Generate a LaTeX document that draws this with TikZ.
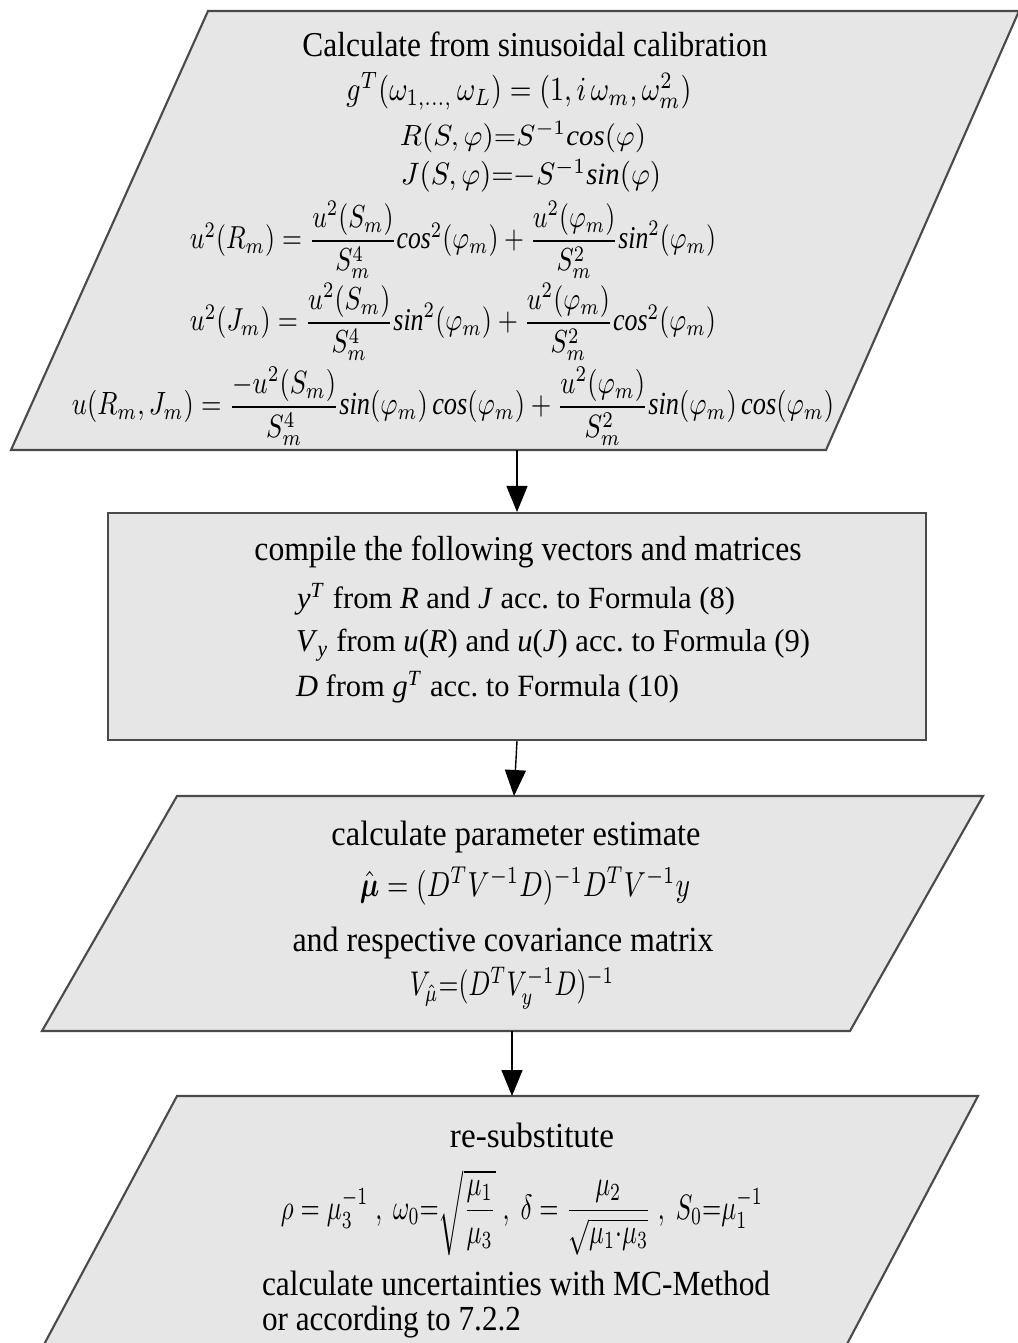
\documentclass[tikz,border=0pt]{standalone}
\usepackage{fontspec}
\setmainfont{Liberation Serif}
\usepackage{amsmath}
\usepackage{graphicx}
\usetikzlibrary{arrows.meta}
\newlength{\px}\setlength{\px}{0.02cm}
\newcommand{\fitto}[3]{\resizebox*{#1\px}{#2\px}{#3}}
\newcommand{\fittext}[2]{\resizebox*{#1\px}{32\px}{\vphantom{(}#2}}
\definecolor{boxfill}{HTML}{E6E6E6}
\definecolor{boxline}{HTML}{4A4A4A}
\begin{document}
\begin{tikzpicture}[x=0.02cm,y=-0.02cm,
  shapebox/.style={fill=boxfill,draw=boxline,line width=1.2pt,line join=miter},
  txt/.style={inner sep=0pt,outer sep=0pt,anchor=center},
  ltxt/.style={inner sep=0pt,outer sep=0pt,anchor=west},
  flowarrow/.style={draw=black,line width=0.8pt,-{Triangle[length=0.52cm,width=0.42cm]}}]
\useasboundingbox (0,0) rectangle (1018,1343);
\begin{scope}
\clip (0,0) rectangle (1018,1343);
% shapes
\draw[shapebox] (208,11) -- (1019,11) -- (826,450) -- (11,450) -- cycle;
\node[shapebox,minimum width=818\px,minimum height=227\px,inner sep=0pt] (box2) at (517,626.5) {};
\draw[shapebox] (177,796) -- (983,796) -- (850,1031) -- (42,1031) -- cycle;
\draw[shapebox] (177,1096) -- (978,1096) -- (828,1380) -- (25,1380) -- cycle;
\end{scope}
% connector ends
\coordinate (p1s) at (517,450);
\coordinate (p3n) at (514,796);
\coordinate (p3s) at (512,1031);
\coordinate (p4n) at (512,1096);
\draw[flowarrow] (p1s) -- (box2.north);
\draw[flowarrow] (box2.south) -- (p3n);
\draw[flowarrow] (p3s) -- (p4n);
% shape 1 texts
\node[txt] (t1) at (535,48) {\fittext{465}{Calculate from sinusoidal calibration}};
\node[txt] (f1) at (519,91) {\fitto{345}{38}{$g^{T}(\omega_{1,\ldots,}\,\omega_{L})=(1,i\,\omega_{m},\omega_{m}^{2})$}};
\node[txt] (f2) at (523,137) {\fitto{246}{31}{$R(S,\varphi){=}S^{-1}\mathit{cos}(\varphi)$}};
\node[txt] (f3) at (531,176) {\fitto{260}{33}{$J(S,\varphi){=}{-}S^{-1}\mathit{sin}(\varphi)$}};
\node[txt] (f4) at (453,240) {\fitto{526}{77}{$u^{2}(R_{m})=\dfrac{u^{2}(S_{m})}{S_{m}^{4}}\mathit{cos}^{2}(\varphi_{m})+\dfrac{u^{2}(\varphi_{m})}{S_{m}^{2}}\mathit{sin}^{2}(\varphi_{m})$}};
\node[txt] (f5) at (453,322) {\fitto{526}{77}{$u^{2}(J_{m})=\dfrac{u^{2}(S_{m})}{S_{m}^{4}}\mathit{sin}^{2}(\varphi_{m})+\dfrac{u^{2}(\varphi_{m})}{S_{m}^{2}}\mathit{cos}^{2}(\varphi_{m})$}};
\node[txt] (f6) at (453,406) {\fitto{762}{78}{$u(R_{m},J_{m})=\dfrac{-u^{2}(S_{m})}{S_{m}^{4}}\mathit{sin}(\varphi_{m})\,\mathit{cos}(\varphi_{m})+\dfrac{u^{2}(\varphi_{m})}{S_{m}^{2}}\mathit{sin}(\varphi_{m})\,\mathit{cos}(\varphi_{m})$}};
% box 2 texts
\node[txt] (t2) at (528,552) {\fittext{547}{compile the following vectors and matrices}};
\node[ltxt] (t3) at (297,599) {\fittext{438}{\textit{y}\textsuperscript{\textit{T}} from \textit{R} and \textit{J} acc.\ to Formula (8)}};
\node[ltxt] (t4) at (296,645) {\fittext{514}{\textit{V}\textsubscript{\textit{y}} from \textit{u}(\textit{R}) and \textit{u}(\textit{J}) acc.\ to Formula (9)}};
\node[ltxt] (t5) at (296,687) {\fittext{383}{\textit{D} from \textit{g}\textsuperscript{\textit{T}} acc.\ to Formula (10)}};
% shape 3 texts
\node[txt] (t6) at (516,837) {\fittext{369}{calculate parameter estimate}};
\node[txt] (f7) at (525,886) {\fitto{330}{38}{$\hat{\boldsymbol{\mu}}=(D^{T}V^{-1}D)^{-1}D^{T}V^{-1}y$}};
\node[txt] (t7) at (503,943) {\fittext{421}{and respective covariance matrix}};
\node[txt] (f8) at (512,988) {\fitto{204}{42}{$V_{\hat{\mu}}{=}(D^{T}V_{y}^{-1}D)^{-1}$}};
% shape 4 texts
\node[txt] (t8) at (532,1139) {\fittext{164}{re-substitute}};
\node[txt] (f9) at (522,1213) {\fitto{482}{86}{$\rho=\mu_{3}^{-1}\;,\;\omega_{0}{=}\sqrt{\dfrac{\mu_{1}}{\mu_{3}}}\;,\;\delta=\dfrac{\mu_{2}}{\sqrt{\mu_{1}{\cdot}\mu_{3}}}\;,\;S_{0}{=}\mu_{1}^{-1}$}};
\node[ltxt] (t9) at (262,1287) {\fittext{508}{calculate uncertainties with MC-Method}};
\node[ltxt] (t10) at (262,1322) {\fittext{259}{or according to 7.2.2}};
\end{tikzpicture}
\end{document}
